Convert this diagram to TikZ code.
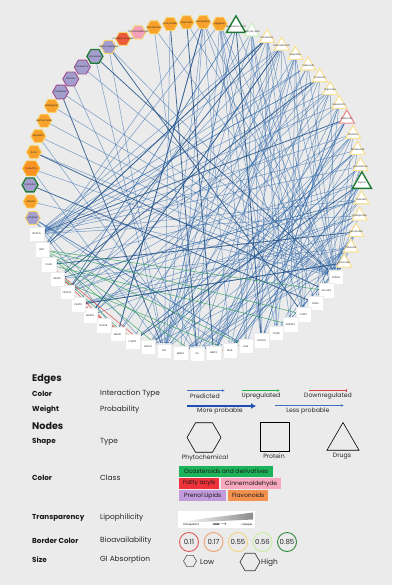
\documentclass[tikz,border=0pt]{standalone}
\usepackage{fontspec}
\setmainfont{Poppins}
\usetikzlibrary{shapes.geometric,arrows.meta,calc}
\definecolor{bgc}{HTML}{EBEBEB}
\definecolor{edgec}{HTML}{2F69AC}
\definecolor{horange}{HTML}{F8A12B}
\definecolor{hyellow}{HTML}{F6D46E}
\definecolor{hpurple}{HTML}{A39ECE}
\definecolor{hmag}{HTML}{9E4F8E}
\definecolor{hgreen}{HTML}{1F7A34}
\definecolor{hred}{HTML}{EC5B3C}
\definecolor{hpink}{HTML}{F3A2BA}
\definecolor{tyellow}{HTML}{F7E19A}
\definecolor{tlgreen}{HTML}{CDEBC5}
\definecolor{tred}{HTML}{E98C8C}
\definecolor{upc}{HTML}{2E9E5B}
\definecolor{downc}{HTML}{D9443E}
\definecolor{predc}{HTML}{3F6FC0}
\definecolor{strongc}{HTML}{1F4FB0}
\definecolor{bgreen}{HTML}{1DB35A}
\definecolor{bred}{HTML}{F0323A}
\definecolor{bpink}{HTML}{F7A8BE}
\definecolor{bpurple}{HTML}{C29BDC}
\definecolor{borange}{HTML}{F5914F}
\definecolor{c1}{HTML}{E05A5A}
\definecolor{c2}{HTML}{EFA070}
\definecolor{c3}{HTML}{F3D77E}
\definecolor{c4}{HTML}{C5EEA0}
\definecolor{c5}{HTML}{2E8B3A}
\pgfdeclarelayer{bg}
\pgfdeclarelayer{edges}
\pgfsetlayers{bg,edges,main}
\begin{document}
\begin{tikzpicture}[x=1pt,y=1pt,
  lblf/.style={font=\fontsize{2.4}{2.7}\selectfont, text=black!85, inner sep=0},
  hexbase/.style={regular polygon, regular polygon sides=6, minimum size=15, inner sep=0, line width=0.9},
  hexO/.style={hexbase, fill=horange, draw=hyellow},
  hexOb/.style={hexbase, minimum size=17, fill=horange!90!red, draw=horange!80!yellow},
  hexP/.style={hexbase, fill=hpurple, draw=hyellow},
  hexPm/.style={hexbase, minimum size=16, fill=hpurple, draw=hmag},
  hexPg/.style={hexbase, minimum size=16, fill=hpurple, draw=hgreen, line width=1.3},
  hexR/.style={hexbase, fill=hred, draw=hyellow},
  hexK/.style={hexbase, fill=hpink, draw=hyellow},
  tribase/.style={regular polygon, regular polygon sides=3, minimum size=17.5, inner sep=0, fill=white, line width=1.1},
  triY/.style={tribase, draw=tyellow},
  triG/.style={tribase, minimum size=22, draw=hgreen, line width=1.4},
  triL/.style={tribase, draw=tlgreen},
  triR/.style={tribase, draw=tred},
  prot/.style={rectangle, minimum size=14.5, inner sep=0, fill=white, draw=black!8, line width=0.2},
  edgeA/.style={draw=edgec, line width=0.5, opacity=0.62, -{Latex[length=1.5pt,width=1.2pt]}},
  edgeB/.style={draw=edgec!80!black, line width=0.8, opacity=0.85, -{Latex[length=1.8pt,width=1.5pt]}},
  edgeU/.style={draw=upc, line width=0.55, opacity=0.8, -{Latex[length=1.5pt,width=1.2pt]}},
  edgeD/.style={draw=downc, line width=0.55, opacity=0.85, -{Bar[width=2pt]}},
  rowt/.style={anchor=west, font=\fontsize{7.4}{8}\selectfont, text=black!85, inner sep=0},
  rowb/.style={anchor=west, font=\fontsize{7.2}{8}\selectfont\bfseries, text=black!90, inner sep=0},
  hdr/.style={anchor=west, font=\fontsize{9.6}{10}\selectfont\bfseries, text=black!90, inner sep=0},
  small/.style={font=\fontsize{6.2}{7}\selectfont, text=black!85, inner sep=0},
  badge/.style={anchor=west, rectangle, minimum height=11, inner xsep=2, inner ysep=0, font=\fontsize{6}{6.5}\selectfont, text=black!90},
  bio/.style={circle, minimum size=19, inner sep=0, line width=0.9, font=\fontsize{7}{7.5}\selectfont, text=black!85}
]
\begin{pgfonlayer}{bg}
\fill[bgc] (0,0) rectangle (392,-585);
\end{pgfonlayer}
\useasboundingbox (0,0) rectangle (392,-585);

% ---------- network nodes ----------
\foreach \i/\typ/\lab in {
 0/hexO/Kaempferol, 1/hexO/Apigenin, 2/triG/Mefenamic Acid, 3/triL/Salicylic Acid,
 4/triY/Diclofenac, 5/triY/Indomethacin, 6/triY/Ibuprofen, 7/triY/Celecoxib,
 8/triY/Piroxicam, 9/triY/Naproxen, 10/triY/Meloxicam, 11/triR/Ketorolac,
 12/triY/Etodolac, 13/triY/Nimesulide, 14/triY/Aceclofenac, 15/triG/Aspirin,
 16/triY/Sulindac, 17/triY/Flurbiprofen, 18/triY/Ketoprofen, 19/triY/Diflunisal,
 20/triY/Etoricoxib,
 21/prot/PPARG, 22/prot/SLC6A4, 23/prot/NOS2, 24/prot/CASP7, 25/prot/MAPK14,
 26/prot/ICAM1, 27/prot/HCRTR1, 28/prot/SELE, 29/prot/RELA, 30/prot/MMP3,
 31/prot/IL6, 32/prot/MMP2, 33/prot/TNF, 34/prot/PRKCA, 35/prot/CASP3,
 36/prot/MAPK1, 37/prot/PIK3CB, 38/prot/MAPK3, 39/prot/CASP8, 40/prot/PIK3CD,
 41/prot/MMP9, 42/prot/CHUK, 43/prot/AKT1, 44/prot/PIK3CA,
 45/hexP/Linalool, 46/hexO/Luteolin, 47/hexPg/Camphor, 48/hexOb/Catechin,
 49/hexO/Rutin, 50/hexO/Myricetin, 51/hexO/Isorhamnetin, 52/hexO/Naringenin,
 53/hexPm/Cadinene, 54/hexPm/Borneol, 55/hexPm/Eudesmol, 56/hexPg/Humulene,
 57/hexP/alpha-Copaene, 58/hexR/Coniferyl acetate, 59/hexK/Cinnamaldehyde,
 60/hexO/Epicatechin, 61/hexO/Procyanidin, 62/hexO/Quercetin}
{
  \path (196,-188) ++({87.5-5.714*\i}:166) node[\typ, label={[lblf]center:\lab}] (n\i) {};
}

% ---------- network edges ----------
\begin{pgfonlayer}{edges}
\pgfmathsetseed{11}
\foreach \s in {0,...,20,45,...,62}{
  \foreach \k in {1,2,3,4,5}{
    \pgfmathrandominteger{\tg}{21}{44}
    \draw[edgeA] (n\s) -- (n\tg);
  }
}
\foreach \s in {0,1,46,49,50,51,52,53,57,60,62,5,6,9,48,55}
  \draw[edgeA] (n\s) -- (n21);
\foreach \s in {4,5,7,8,9,10,12,13,14,16,17}
  \draw[edgeA] (n\s) -- (n44);
\foreach \s in {0,4,5,57,56,11,15,48,3,61}
  \draw[edgeA] (n\s) -- (n33);
\foreach \s in {1,6,12,50,54,19,60}
  \draw[edgeA] (n\s) -- (n31);
\foreach \s/\tg in {2/27,4/43,4/40,56/21,53/33,5/38,62/30,0/36,15/35,18/42,57/24,49/22,11/44,61/31,20/39,8/41,47/23}
  \draw[edgeB] (n\s) -- (n\tg);
\foreach \s/\tg in {43/33,43/31,43/24,43/22,42/35,42/25,41/29,43/28}
  \draw[edgeU] (n\s) -- (n\tg);
\foreach \s/\tg in {42/36,41/37,40/35,30/26,39/34,42/34}
  \draw[edgeD] (n\s) -- (n\tg);
\end{pgfonlayer}

% ---------- legend ----------
\node[hdr] (hE) at (32,-379) {Edges};
\node[rowb] (r1a) at (32,-394) {Color};
\node[rowt] (r1b) at (100,-394) {Interaction Type};
\coordinate (pa1) at (187,-390.5); \coordinate (pa2) at (225,-390.5);
\draw[predc, line width=0.9, -{Latex[length=3pt,width=2.6pt]}] (pa1) -- (pa2);
\node[small] (lp) at (205,-395.8) {Predicted};
\coordinate (ua1) at (242,-390.5); \coordinate (ua2) at (280,-390.5);
\draw[upc!80!green, line width=0.9, -{Latex[length=3pt,width=2.6pt]}] (ua1) -- (ua2);
\node[small] (lu) at (261,-395.8) {Upregulated};
\coordinate (da1) at (309,-390.5); \coordinate (da2) at (347,-390.5);
\draw[downc, line width=0.9, -{Bar[width=3.5pt]}] (da1) -- (da2);
\node[small] (ld) at (328,-395.8) {Downregulated};

\node[rowb] (r2a) at (32,-409.5) {Weight};
\node[rowt] (r2b) at (100,-409.5) {Probability};
\coordinate (wa1) at (187,-406); \coordinate (wa2) at (256,-406);
\draw[strongc, line width=2, -{Latex[length=5pt,width=6pt]}] (wa1) -- (wa2);
\node[small] (lm) at (220,-411.5) {More probable};
\coordinate (wb1) at (275,-405.5); \coordinate (wb2) at (344,-405.5);
\draw[predc, line width=0.8, -{Latex[length=3pt,width=2.6pt]}] (wb1) -- (wb2);
\node[small] (ll) at (308,-411.5) {Less probable};

\node[hdr] (hN) at (32,-425.5) {Nodes};
\node[rowb] (r3a) at (32,-442) {Shape};
\node[rowt] (r3b) at (100,-442) {Type};
\node[regular polygon, regular polygon sides=6, minimum size=34, draw=black, line width=0.6, inner sep=0] (shx) at (204,-437.5) {};
\node[small] (lph) at (205,-458) {Phytochemical};
\node[rectangle, minimum size=29, draw=black, line width=0.6, inner sep=0] (ssq) at (275,-436.5) {};
\node[small] (lpr) at (274,-456.3) {Protein};
\node[regular polygon, regular polygon sides=3, minimum size=37, draw=black, line width=0.6, inner sep=0] (str) at (343,-441) {};
\node[small] (ldr) at (342,-455.8) {Drugs};

\node[rowb] (r4a) at (32,-478) {Color};
\node[rowt] (r4b) at (100,-478) {Class};
\node[badge, fill=bgreen, minimum width=94] (b1) at (179,-471.5) {Ocasteroids and derivatives};
\node[badge, fill=bred, minimum width=40] (b2) at (179,-483.5) {Fatty acyls};
\node[badge, fill=bpink, minimum width=60] (b3) at (221,-483.5) {Cinnemaldehyde};
\node[badge, fill=bpurple, minimum width=47] (b4) at (179,-495.5) {Prenol Lipids};
\node[badge, fill=borange, minimum width=40] (b5) at (228,-495.5) {Flavonoids};

\node[rowb] (r5a) at (32,-517.5) {Transparency};
\node[rowt] (r5b) at (100,-517.5) {Lipophilicity};
\fill[white] (178,-511) rectangle (255,-527.5);
\shade[left color=white, right color=black!45] (181,-521.5) -- (253,-512.5) -- (253,-519.5) -- (181,-522.8) -- cycle;
\node[font=\fontsize{2.6}{3}\selectfont, inner sep=0] (tt1) at (191,-525) {Transparent};
\node[font=\fontsize{2.6}{3}\selectfont\bfseries, inner sep=0] (tt2) at (220,-525) {LOGP $\rightarrow$};
\node[font=\fontsize{2.6}{3}\selectfont, inner sep=0] (tt3) at (247,-525) {Opaque};

\node[rowb] (r6a) at (32,-541) {Border Color};
\node[rowt] (r6b) at (100,-541) {Bioavailability};
\node[bio, draw=c1] (o1) at (189,-542) {0.11};
\node[bio, draw=c2] (o2) at (213.5,-542) {0.17};
\node[bio, draw=c3] (o3) at (238,-542) {0.55};
\node[bio, draw=c4] (o4) at (262.5,-542) {0.56};
\node[bio, draw=c5] (o5) at (287,-542) {0.85};

\node[rowb] (r7a) at (32,-559.5) {Size};
\node[rowt] (r7b) at (100,-559.5) {GI Absorption};
\node[regular polygon, regular polygon sides=6, minimum size=13, draw=black!65, line width=0.6, inner sep=0] (sz1) at (190,-561) {};
\node[rowt] (szl) at (200,-561.5) {Low};
\node[regular polygon, regular polygon sides=6, minimum size=20, draw=black!75, line width=0.7, inner sep=0] (sz2) at (250,-562) {};
\node[rowt] (szh) at (261,-562.5) {High};
\end{tikzpicture}
\end{document}
